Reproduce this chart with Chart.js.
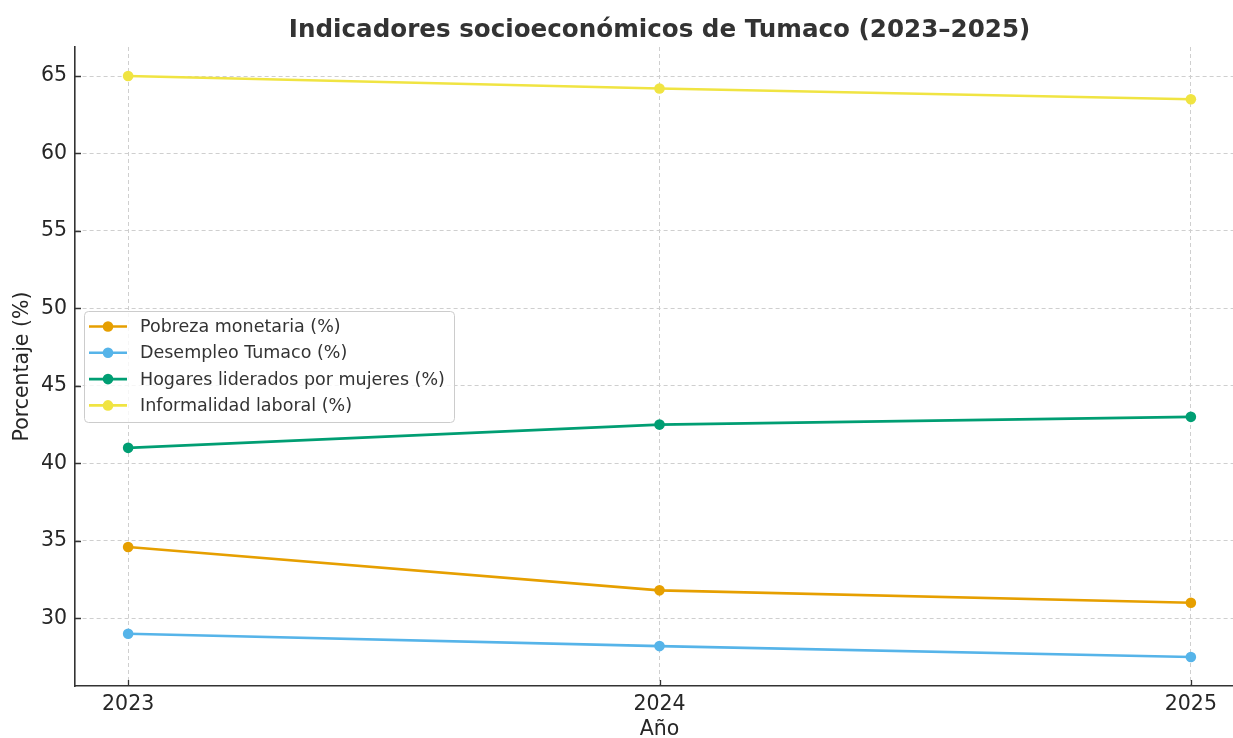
<!DOCTYPE html>
<html>
<head>
<meta charset="utf-8">
<script src="https://cdn.jsdelivr.net/npm/chart.js@4.4.1/dist/chart.umd.min.js"></script>
<style>
  html, body { margin: 0; padding: 0; background: #fff; overflow: hidden; }
  #wrap { width: 1233px; height: 738px; overflow: hidden; position: relative; }
  canvas { display: block; }
</style>
</head>
<body>
<div id="wrap"><canvas id="c" width="1260" height="738"></canvas></div>
<script>
const TITLE = "Indicadores socioeconómicos de Tumaco (2023–2025)";
const X_LABEL = "Año";
const Y_LABEL = "Porcentaje (%)";
const years = [2023, 2024, 2025];
const yTicks = [30, 35, 40, 45, 50, 55, 60, 65];
const seriesNames = ["Pobreza monetaria (%)", "Desempleo Tumaco (%)", "Hogares liderados por mujeres (%)", "Informalidad laboral (%)"];
const pobreza = [34.6, 31.8, 31.0];
const desempleo = [29.0, 28.2, 27.5];
const hogares = [41.0, 42.5, 43.0];
const informalidad = [65.0, 64.2, 63.5];
const colors = ["#E69F00", "#56B4E9", "#009E73", "#F0E442"];

const FONT = "'DejaVu Sans', sans-serif";
const seriesValues = [pobreza, desempleo, hogares, informalidad];

const datasets = seriesValues.map((vals, i) => ({
  label: seriesNames[i],
  data: years.map((yr, j) => ({ x: yr, y: vals[j] })),
  borderColor: colors[i],
  backgroundColor: colors[i],
  borderWidth: 2.6,
  pointRadius: 5.3,
  pointHoverRadius: 5.3,
  pointBorderWidth: 0,
  tension: 0,
  fill: false,
  order: seriesValues.length - i
}));

const titlePlugin = {
  id: 'titlePlugin',
  afterDraw(chart) {
    const { ctx, chartArea } = chart;
    ctx.save();
    ctx.font = "bold 24.6px " + FONT;
    ctx.fillStyle = "#333333";
    ctx.textAlign = "center";
    ctx.textBaseline = "alphabetic";
    ctx.fillText(TITLE, (chartArea.left + chartArea.right) / 2, 37);
    ctx.restore();
  }
};

const inwardTicks = {
  id: 'inwardTicks',
  afterDatasetsDraw(chart) {
    const { ctx, chartArea, scales } = chart;
    ctx.save();
    ctx.strokeStyle = "#333333";
    ctx.lineWidth = 1.3;
    ctx.beginPath();
    scales.y.ticks.forEach(t => {
      const p = Math.round(scales.y.getPixelForValue(t.value)) + 0.5;
      ctx.moveTo(chartArea.left, p);
      ctx.lineTo(chartArea.left + 6, p);
    });
    scales.x.ticks.forEach(t => {
      const p = Math.round(scales.x.getPixelForValue(t.value)) + 0.5;
      ctx.moveTo(p, chartArea.bottom);
      ctx.lineTo(p, chartArea.bottom - 6);
    });
    ctx.stroke();
    ctx.restore();
  }
};

const legendPlugin = {
  id: 'boxLegend',
  afterDraw(chart) {
    const { ctx } = chart;
    const x0 = 84, y0 = 311, w = 370, h = 111;
    ctx.save();
    ctx.fillStyle = "rgba(255,255,255,0.8)";
    ctx.strokeStyle = "#cccccc";
    ctx.lineWidth = 1;
    ctx.beginPath();
    if (ctx.roundRect) ctx.roundRect(x0 + 0.5, y0 + 0.5, w, h, 4); else ctx.rect(x0 + 0.5, y0 + 0.5, w, h);
    ctx.fill();
    ctx.stroke();
    ctx.font = "17.5px " + FONT;
    ctx.textBaseline = "middle";
    ctx.textAlign = "left";
    chart.data.datasets.forEach((ds, i) => {
      const cy = 326.5 + i * 26.3;
      ctx.strokeStyle = ds.borderColor;
      ctx.lineWidth = 2.6;
      ctx.beginPath();
      ctx.moveTo(89, cy);
      ctx.lineTo(127, cy);
      ctx.stroke();
      ctx.fillStyle = ds.backgroundColor;
      ctx.beginPath();
      ctx.arc(108, cy, 5.3, 0, Math.PI * 2);
      ctx.fill();
      ctx.fillStyle = "#333333";
      ctx.fillText(ds.label, 140, cy + 1);
    });
    ctx.restore();
  }
};

new Chart(document.getElementById('c'), {
  type: 'line',
  data: { datasets },
  plugins: [titlePlugin, inwardTicks, legendPlugin],
  options: {
    responsive: false,
    animation: false,
    layout: { padding: { top: 47, right: 16, bottom: 0, left: 0 } },
    plugins: {
      legend: { display: false },
      title: { display: false },
      tooltip: { enabled: false }
    },
    scales: {
      x: {
        type: 'linear',
        min: 2022.9,
        max: 2025.1,
        afterBuildTicks(scale) { scale.ticks = years.map(v => ({ value: v })); },
        afterFit(scale) { scale.height = 52; },
        ticks: {
          callback: v => String(v),
          color: "#262626",
          font: { family: FONT, size: 20.5 },
          padding: 6,
          maxRotation: 0
        },
        grid: {
          color: "#cfcfcf",
          lineWidth: 1,
          drawTicks: false
        },
        border: { display: true, color: "#333333", width: 1.6, dash: [4, 3] },
        title: {
          display: true,
          text: X_LABEL,
          color: "#262626",
          font: { family: FONT, size: 20.5, lineHeight: 1 },
          padding: { top: 0, bottom: -2 }
        }
      },
      y: {
        type: 'linear',
        min: 25.625,
        max: 66.875,
        afterBuildTicks(scale) { scale.ticks = yTicks.map(v => ({ value: v })); },
        afterFit(scale) { scale.width = 75; },
        ticks: {
          color: "#262626",
          font: { family: FONT, size: 20.5 },
          padding: 8
        },
        grid: {
          color: "#cfcfcf",
          lineWidth: 1,
          drawTicks: false
        },
        border: { display: true, color: "#333333", width: 1.6, dash: [4, 3] },
        title: {
          display: true,
          text: Y_LABEL,
          color: "#262626",
          font: { family: FONT, size: 20.5, lineHeight: 1.2 },
          padding: { top: 10, bottom: 0 }
        }
      }
    }
  }
});
</script>
</body>
</html>
